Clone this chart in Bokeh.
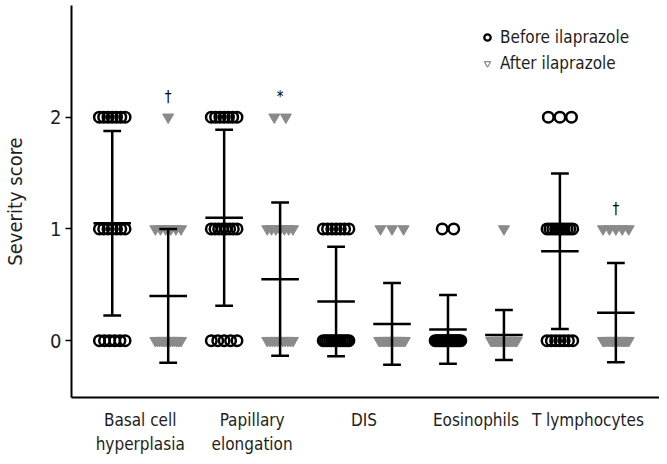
import numpy as np
from bokeh.plotting import figure
from bokeh.models import Range1d, FixedTicker, Legend, LegendItem
from bokeh.core.properties import value
from bokeh.embed import file_html
from bokeh.resources import INLINE

# ---- data ----
categories = ["Basal cell\nhyperplasia", "Papillary\nelongation", "DIS", "Eosinophils", "T lymphocytes"]
score_levels = [0, 1, 2]
# number of patients at severity score 0, 1, 2
before_counts = [[6, 7, 7], [5, 8, 7], [13, 7, 0], [18, 2, 0], [7, 10, 3]]
after_counts = [[13, 6, 1], [11, 7, 2], [17, 3, 0], [19, 1, 0], [15, 5, 0]]
significance = ["\u2020", "*", "", "", "\u2020"]
y_ticks = [0, 1, 2]
series_names = ["Before ilaprazole", "After ilaprazole"]

FONT = "DejaVu Sans Condensed, Liberation Sans Narrow, sans-serif"
TXT = "#1e1e1e"
GRAY = "#8a8a8a"

W, H = 659, 456
BL, BR, BT, BB = 64, 0, 5, 58
x0, x1 = -0.614, 4.64
y0, y1 = -0.509, 3.0
px = (W - BL - BR) / (x1 - x0)  # pixels per x unit

p = figure(width=W, height=H, output_backend="svg", toolbar_location=None,
           x_range=Range1d(x0, x1), y_range=Range1d(y0, y1),
           min_border_left=BL, min_border_right=BR, min_border_top=BT, min_border_bottom=BB)
p.outline_line_color = None
p.grid.visible = False
p.background_fill_color = "white"
p.border_fill_color = "white"


def row_positions(center, n):
    if n <= 0:
        return []
    if n == 1:
        return [center]
    s = min(11.7, 26.0 / (n - 1)) / px
    return [center + (k - (n - 1) / 2) * s for k in range(n)]


def stats(counts):
    vals = np.repeat(score_levels, counts).astype(float)
    return vals.mean(), vals.std(ddof=1)


bx, by, ax_, ay = [], [], [], []
for i in range(len(categories)):
    for lvl, n in zip(score_levels, before_counts[i]):
        xs = row_positions(i - 0.25, n)
        bx += xs
        by += [lvl] * len(xs)
    for lvl, n in zip(score_levels, after_counts[i]):
        xs = row_positions(i + 0.25, n)
        ax_ += xs
        ay += [lvl] * len(xs)

p.scatter(ax_, ay, marker="inverted_triangle", size=11, fill_color=GRAY, line_color=GRAY, line_width=1)
p.scatter(bx, by, marker="circle", size=10.5, fill_color=None, line_color="black", line_width=2.5)

# mean +/- SD
vx0, vy0, vx1, vy1 = [], [], [], []
for i in range(len(categories)):
    for off, counts in ((-0.25, before_counts[i]), (0.25, after_counts[i])):
        m, sd = stats(counts)
        c = i + off
        vx0.append(c); vx1.append(c); vy0.append(m - sd); vy1.append(m + sd)
        for yy in (m - sd, m + sd):
            vx0.append(c - 9 / px); vx1.append(c + 9 / px); vy0.append(yy); vy1.append(yy)
        vx0.append(c - 19 / px); vx1.append(c + 19 / px); vy0.append(m); vy1.append(m)
p.segment(vx0, vy0, vx1, vy1, line_color="black", line_width=2.5)

# significance marks
sx, sy, st = [], [], []
for i, mark in enumerate(significance):
    if mark:
        top = max(l for l, n in zip(score_levels, after_counts[i]) if n > 0)
        sx.append(i + 0.25); sy.append(top + 0.18); st.append(mark)
p.text(sx, sy, text=st, text_align="center", text_baseline="middle",
       text_font=value(FONT), text_font_size="15px", text_color="black")

# legend
nan = float("nan")
r1 = p.scatter([nan], [nan], marker="circle", size=8, fill_color=None, line_color="black", line_width=2.3)
r2 = p.scatter([nan], [nan], marker="inverted_triangle", size=10, fill_color=None, line_color=GRAY, line_width=1.2)
legend = Legend(items=[LegendItem(label=series_names[0], renderers=[r1], index=0),
                       LegendItem(label=series_names[1], renderers=[r2], index=0)],
                location=(408, 324), border_line_color=None, background_fill_alpha=0,
                padding=0, margin=0, spacing=6, glyph_width=16, glyph_height=20,
                label_height=20, label_standoff=5, label_text_font=FONT,
                label_text_font_size="17px", label_text_color=TXT)
p.add_layout(legend)

# axes
ya = p.yaxis[0]
ya.ticker = FixedTicker(ticks=y_ticks)
ya.major_tick_in = 0
ya.major_tick_out = 6
ya.minor_tick_line_color = None
ya.axis_line_width = 2
ya.major_tick_line_width = 1.5
ya.major_label_standoff = 4
ya.major_label_text_font = FONT
ya.major_label_text_font_size = "20px"
ya.major_label_text_color = TXT
ya.axis_label = "Severity score"
ya.axis_label_text_font = FONT
ya.axis_label_text_font_size = "20px"
ya.axis_label_text_font_style = "normal"
ya.axis_label_text_color = TXT
ya.axis_label_standoff = 20

xa = p.xaxis[0]
xa.ticker = FixedTicker(ticks=list(range(len(categories))))
xa.major_label_overrides = {i: c for i, c in enumerate(categories)}
xa.major_tick_line_color = None
xa.minor_tick_line_color = None
xa.axis_line_width = 2
xa.major_label_standoff = 6
xa.major_label_text_font = FONT
xa.major_label_text_font_size = "17px"
xa.major_label_text_color = TXT

open("out.html", "w").write(file_html(p, INLINE))
